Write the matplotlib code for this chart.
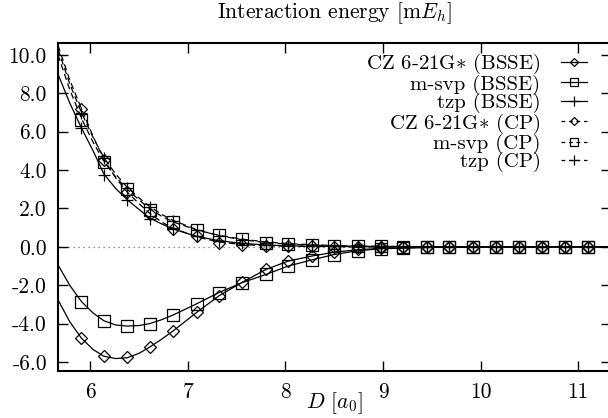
import matplotlib
matplotlib.use("Agg")
import matplotlib.pyplot as plt
from matplotlib.lines import Line2D

plt.rcParams['font.family'] = 'serif'
plt.rcParams['font.serif'] = ['cmr10', 'DejaVu Serif']
plt.rcParams['mathtext.fontset'] = 'cm'
plt.rcParams['axes.unicode_minus'] = False
plt.rcParams['axes.formatter.use_mathtext'] = True

# marker positions (a0)
D = [5.91, 6.14, 6.38, 6.61, 6.85, 7.09, 7.32, 7.56, 7.80, 8.03, 8.27, 8.50,
     8.74, 8.98, 9.21, 9.45, 9.68, 9.92, 10.16, 10.39, 10.63, 10.87, 11.10]

# computed points (mE_h)
cz_bsse = [-4.76, -5.71, -5.75, -5.24, -4.38, -3.40, -2.54, -1.84, -1.13, -0.72, -0.48, -0.26,
           -0.12, -0.06, -0.03, -0.02, -0.01, 0.0, 0.0, 0.0, 0.0, 0.0, 0.0]
msvp_bsse = [-2.85, -3.84, -4.11, -4.00, -3.54, -2.97, -2.38, -1.86, -1.44, -0.98, -0.68, -0.40,
             -0.20, -0.10, -0.05, -0.03, -0.02, -0.01, 0.0, 0.0, 0.0, 0.0, 0.0]
tzp_bsse = [6.20, 3.75, 2.45, 1.45, 0.92, 0.55, 0.32, 0.18, 0.10, 0.05, 0.03, 0.02,
            0.01, 0.0, 0.0, 0.0, 0.0, 0.0, 0.0, 0.0, 0.0, 0.0, 0.0]
cz_cp = [7.19, 4.55, 2.88, 1.72, 0.92, 0.54, 0.22, 0.10, 0.05, 0.03, 0.02, 0.01,
         0.0, 0.0, 0.0, 0.0, 0.0, 0.0, 0.0, 0.0, 0.0, 0.0, 0.0]
msvp_cp = [6.60, 4.40, 3.00, 1.93, 1.27, 0.89, 0.63, 0.40, 0.22, 0.17, 0.10, 0.07,
           0.04, 0.02, 0.01, 0.0, 0.0, 0.0, 0.0, 0.0, 0.0, 0.0, 0.0]
tzp_cp = [7.00, 4.65, 3.05, 2.10, 1.35, 0.88, 0.55, 0.35, 0.22, 0.14, 0.09, 0.06,
          0.04, 0.02, 0.01, 0.0, 0.0, 0.0, 0.0, 0.0, 0.0, 0.0, 0.0]

# fitted curves
D_fit = [5.67, 5.79, 5.91, 6.03, 6.14, 6.26, 6.38, 6.50, 6.61, 6.73, 6.85, 7.09, 7.32,
         7.56, 7.80, 8.03, 8.27, 8.50, 8.74, 8.98, 9.45, 9.92, 10.39, 10.87, 11.34]
cz_bsse_fit = [-2.76, -3.90, -4.76, -5.35, -5.70, -5.82, -5.78, -5.55, -5.22, -4.82, -4.38,
               -3.42, -2.55, -1.84, -1.18, -0.74, -0.48, -0.28, -0.15, -0.08, -0.03, -0.01,
               0.0, 0.0, 0.0]
msvp_bsse_fit = [-0.94, -2.00, -2.85, -3.45, -3.85, -4.07, -4.13, -4.10, -4.00, -3.80, -3.55,
                 -2.97, -2.38, -1.86, -1.44, -1.00, -0.68, -0.40, -0.20, -0.10, -0.03, -0.01,
                 0.0, 0.0, 0.0]
tzp_bsse_fit = [9.00, 7.50, 6.20, 5.00, 3.80, 3.05, 2.45, 1.95, 1.50, 1.20, 0.93, 0.55, 0.32,
                0.18, 0.10, 0.05, 0.03, 0.02, 0.01, 0.0, 0.0, 0.0, 0.0, 0.0, 0.0]
cz_cp_fit = [10.50, 8.70, 7.20, 5.75, 4.55, 3.60, 2.85, 2.25, 1.75, 1.30, 0.97, 0.52, 0.25,
             0.12, 0.06, 0.03, 0.02, 0.01, 0.0, 0.0, 0.0, 0.0, 0.0, 0.0, 0.0]
msvp_cp_fit = [10.00, 8.20, 6.70, 5.45, 4.45, 3.65, 3.00, 2.45, 1.98, 1.60, 1.30, 0.88, 0.60,
               0.40, 0.26, 0.17, 0.11, 0.07, 0.04, 0.03, 0.01, 0.0, 0.0, 0.0, 0.0]
tzp_cp_fit = [10.30, 8.50, 7.00, 5.70, 4.65, 3.80, 3.10, 2.55, 2.10, 1.70, 1.38, 0.90, 0.58,
              0.37, 0.23, 0.14, 0.09, 0.05, 0.03, 0.02, 0.01, 0.0, 0.0, 0.0, 0.0]

x_ticks = [6, 7, 8, 9, 10, 11]
y_ticks = [-6, -4, -2, 0, 2, 4, 6, 8, 10]

series = [
    ("CZ 6-21G$*$ (BSSE)", cz_bsse, cz_bsse_fit, 'D', '-'),
    ("m-svp (BSSE)", msvp_bsse, msvp_bsse_fit, 's', '-'),
    ("tzp (BSSE)", tzp_bsse, tzp_bsse_fit, '+', '-'),
    ("CZ 6-21G$*$ (CP)", cz_cp, cz_cp_fit, 'D', '--'),
    ("m-svp (CP)", msvp_cp, msvp_cp_fit, 's', '--'),
    ("tzp (CP)", tzp_cp, tzp_cp_fit, '+', '--'),
]
msize = {'D': 6.0, 's': 8.6, '+': 9.0}

fig = plt.figure(figsize=(6.08, 4.18), dpi=100)
ax = fig.add_axes([0.0954, 0.1124, 0.91, 0.7846])

ax.axhline(0, color='0.45', lw=0.9, ls=(0, (1, 3)), zorder=1)

handles = []
for label, pts, fit, mk, ls in series:
    ax.plot(D_fit, fit, color='black', lw=0.9, ls=ls, dashes=(5, 3) if ls == '--' else (None, None))
    ax.plot(D, pts, ls='none', marker=mk, ms=msize[mk], mfc='none', mec='black', mew=0.9)
    h = Line2D([], [], color='black', lw=0.9, ls=ls, marker=mk, ms=msize[mk] * 0.75,
               mfc='none', mec='black', mew=0.9)
    if ls == '--':
        h.set_dashes((3, 3))
    handles.append(h)

ax.set_xlim(5.67, 11.34)
ax.set_ylim(-6.47, 10.62)
ax.set_xticks(x_ticks)
ax.set_xticklabels([str(v) for v in x_ticks])
ax.set_yticks(y_ticks)
ax.set_yticklabels(["%.1f" % v for v in y_ticks])
ax.tick_params(direction='in', length=7.2, width=1.0, top=True, right=True,
               labelsize=15.5, pad=8)
for s in ax.spines.values():
    s.set_linewidth(1.5)

ax.set_title("Interaction energy [m$E_h$]", fontsize=15.5, pad=18)
ax.set_xlabel("$D$ [$a_0$]", fontsize=15.5, labelpad=-8)

ax.legend(handles, [s[0] for s in series], loc='upper right', frameon=False,
          markerfirst=False, fontsize=15, handlelength=1.25, handletextpad=1.0,
          labelspacing=-0.08, borderaxespad=0, bbox_to_anchor=(0.972, 0.998))

fig.savefig("out.png", dpi=100)
